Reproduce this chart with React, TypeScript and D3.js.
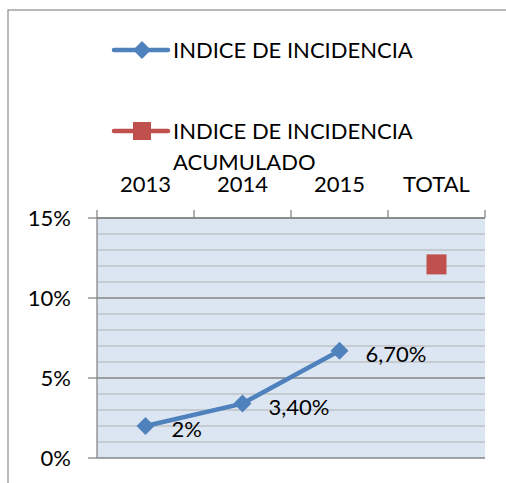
import * as d3 from "d3";

// chart values
const categories = ["2013", "2014", "2015", "TOTAL"];
const yearValues = [0.02, 0.034, 0.067];
const yearLabels = ["2%", "3,40%", "6,70%"];
const totalValue = 0.121;
const yTicks = [0, 0.05, 0.1, 0.15];
const seriesNames = ["INDICE DE INCIDENCIA", "INDICE DE INCIDENCIA ACUMULADO"];

const BLUE = "#4f81bd";
const RED = "#c0504d";
const FONT = "Lato, 'Open Sans', sans-serif";

export default function App() {
  const width = 506;
  const height = 483;
  const plot = { left: 97, right: 485, top: 218, bottom: 458 };

  const x = d3
    .scaleBand<string>()
    .domain(categories)
    .range([plot.left, plot.right]);

  const y = d3
    .scaleLinear()
    .domain([0, 0.15])
    .range([plot.bottom, plot.top]);

  const minorTicks = d3.range(0, 16).map((d) => d / 100);

  const points = yearValues.map((v, i) => ({
    cx: (x(categories[i]) as number) + x.bandwidth() / 2,
    cy: y(v),
    label: yearLabels[i],
  }));

  const line = d3
    .line<{ cx: number; cy: number }>()
    .x((d) => d.cx)
    .y((d) => d.cy);

  const diamond = d3.symbol(d3.symbolSquare, 162)() as string;
  const square = d3.symbol(d3.symbolSquare, 400)() as string;

  const totalX = (x("TOTAL") as number) + x.bandwidth() / 2;

  return (
    <svg
      width={width}
      height={height}
      style={{ position: "absolute", left: 0, top: 0, background: "#fff" }}
      fontFamily={FONT}
    >
      {/* chart frame */}
      <rect x={8} y={10} width={520} height={500} fill="#fff" stroke="#8c8c8c" strokeWidth={1.2} />

      {/* legend */}
      <g>
        <line x1={114} x2={168} y1={50} y2={50} stroke={BLUE} strokeWidth={4.5} strokeLinecap="round" />
        <path d={diamond} transform="translate(142,50) rotate(45)" fill={BLUE} />
        <text x={173} y={58} fontSize={22} fill="#000">{seriesNames[0]}</text>

        <line x1={114} x2={168} y1={131} y2={131} stroke={RED} strokeWidth={4.5} strokeLinecap="round" />
        <rect x={133} y={122} width={18} height={18} fill={RED} />
        <text x={173} y={139} fontSize={22} fill="#000">INDICE DE INCIDENCIA</text>
        <text x={173} y={170} fontSize={22} fill="#000">ACUMULADO</text>
      </g>

      {/* plot background */}
      <rect
        x={plot.left}
        y={plot.top}
        width={plot.right - plot.left}
        height={plot.bottom - plot.top}
        fill="#dce6f2"
      />

      {/* minor gridlines */}
      {minorTicks.map((t) => (
        <line
          key={"m" + t}
          x1={plot.left}
          x2={plot.right}
          y1={y(t)}
          y2={y(t)}
          stroke={Math.round(t * 100) % 5 === 0 ? "#868686" : "#b0b0b0"}
          strokeWidth={Math.round(t * 100) % 5 === 0 ? 1.3 : 1}
        />
      ))}

      {/* y axis */}
      <line x1={plot.left} x2={plot.left} y1={plot.top} y2={plot.bottom} stroke="#868686" strokeWidth={1.3} />
      {yTicks.map((t) => (
        <g key={"y" + t}>
          <line x1={plot.left - 9} x2={plot.left} y1={y(t)} y2={y(t)} stroke="#868686" strokeWidth={1.3} />
          <text x={71} y={y(t)} dy="0.36em" textAnchor="end" fontSize={22} fill="#000">
            {d3.format(".0%")(t)}
          </text>
        </g>
      ))}

      {/* x axis on top */}
      <line x1={plot.left} x2={plot.right} y1={plot.top} y2={plot.top} stroke="#868686" strokeWidth={1.3} />
      {categories.concat(["end"]).map((c, i) => {
        const px = i < categories.length ? (x(c) as number) : plot.right;
        return (
          <line key={"xt" + i} x1={px} x2={px} y1={plot.top - 8} y2={plot.top} stroke="#868686" strokeWidth={1.3} />
        );
      })}
      {categories.map((c) => (
        <text
          key={"xl" + c}
          x={(x(c) as number) + x.bandwidth() / 2}
          y={192}
          textAnchor="middle"
          fontSize={22}
          fill="#000"
        >
          {c}
        </text>
      ))}

      {/* series 1 */}
      <path d={line(points) as string} fill="none" stroke={BLUE} strokeWidth={4.5} strokeLinejoin="round" />
      {points.map((p, i) => (
        <g key={"p" + i}>
          <path d={diamond} transform={`translate(${p.cx},${p.cy}) rotate(45)`} fill={BLUE} />
          <text x={p.cx + 26} y={p.cy + 3} dy="0.36em" fontSize={22} fill="#000">
            {p.label}
          </text>
        </g>
      ))}

      {/* series 2 */}
      <path d={square} transform={`translate(${totalX},${y(totalValue)})`} fill={RED} />
    </svg>
  );
}
